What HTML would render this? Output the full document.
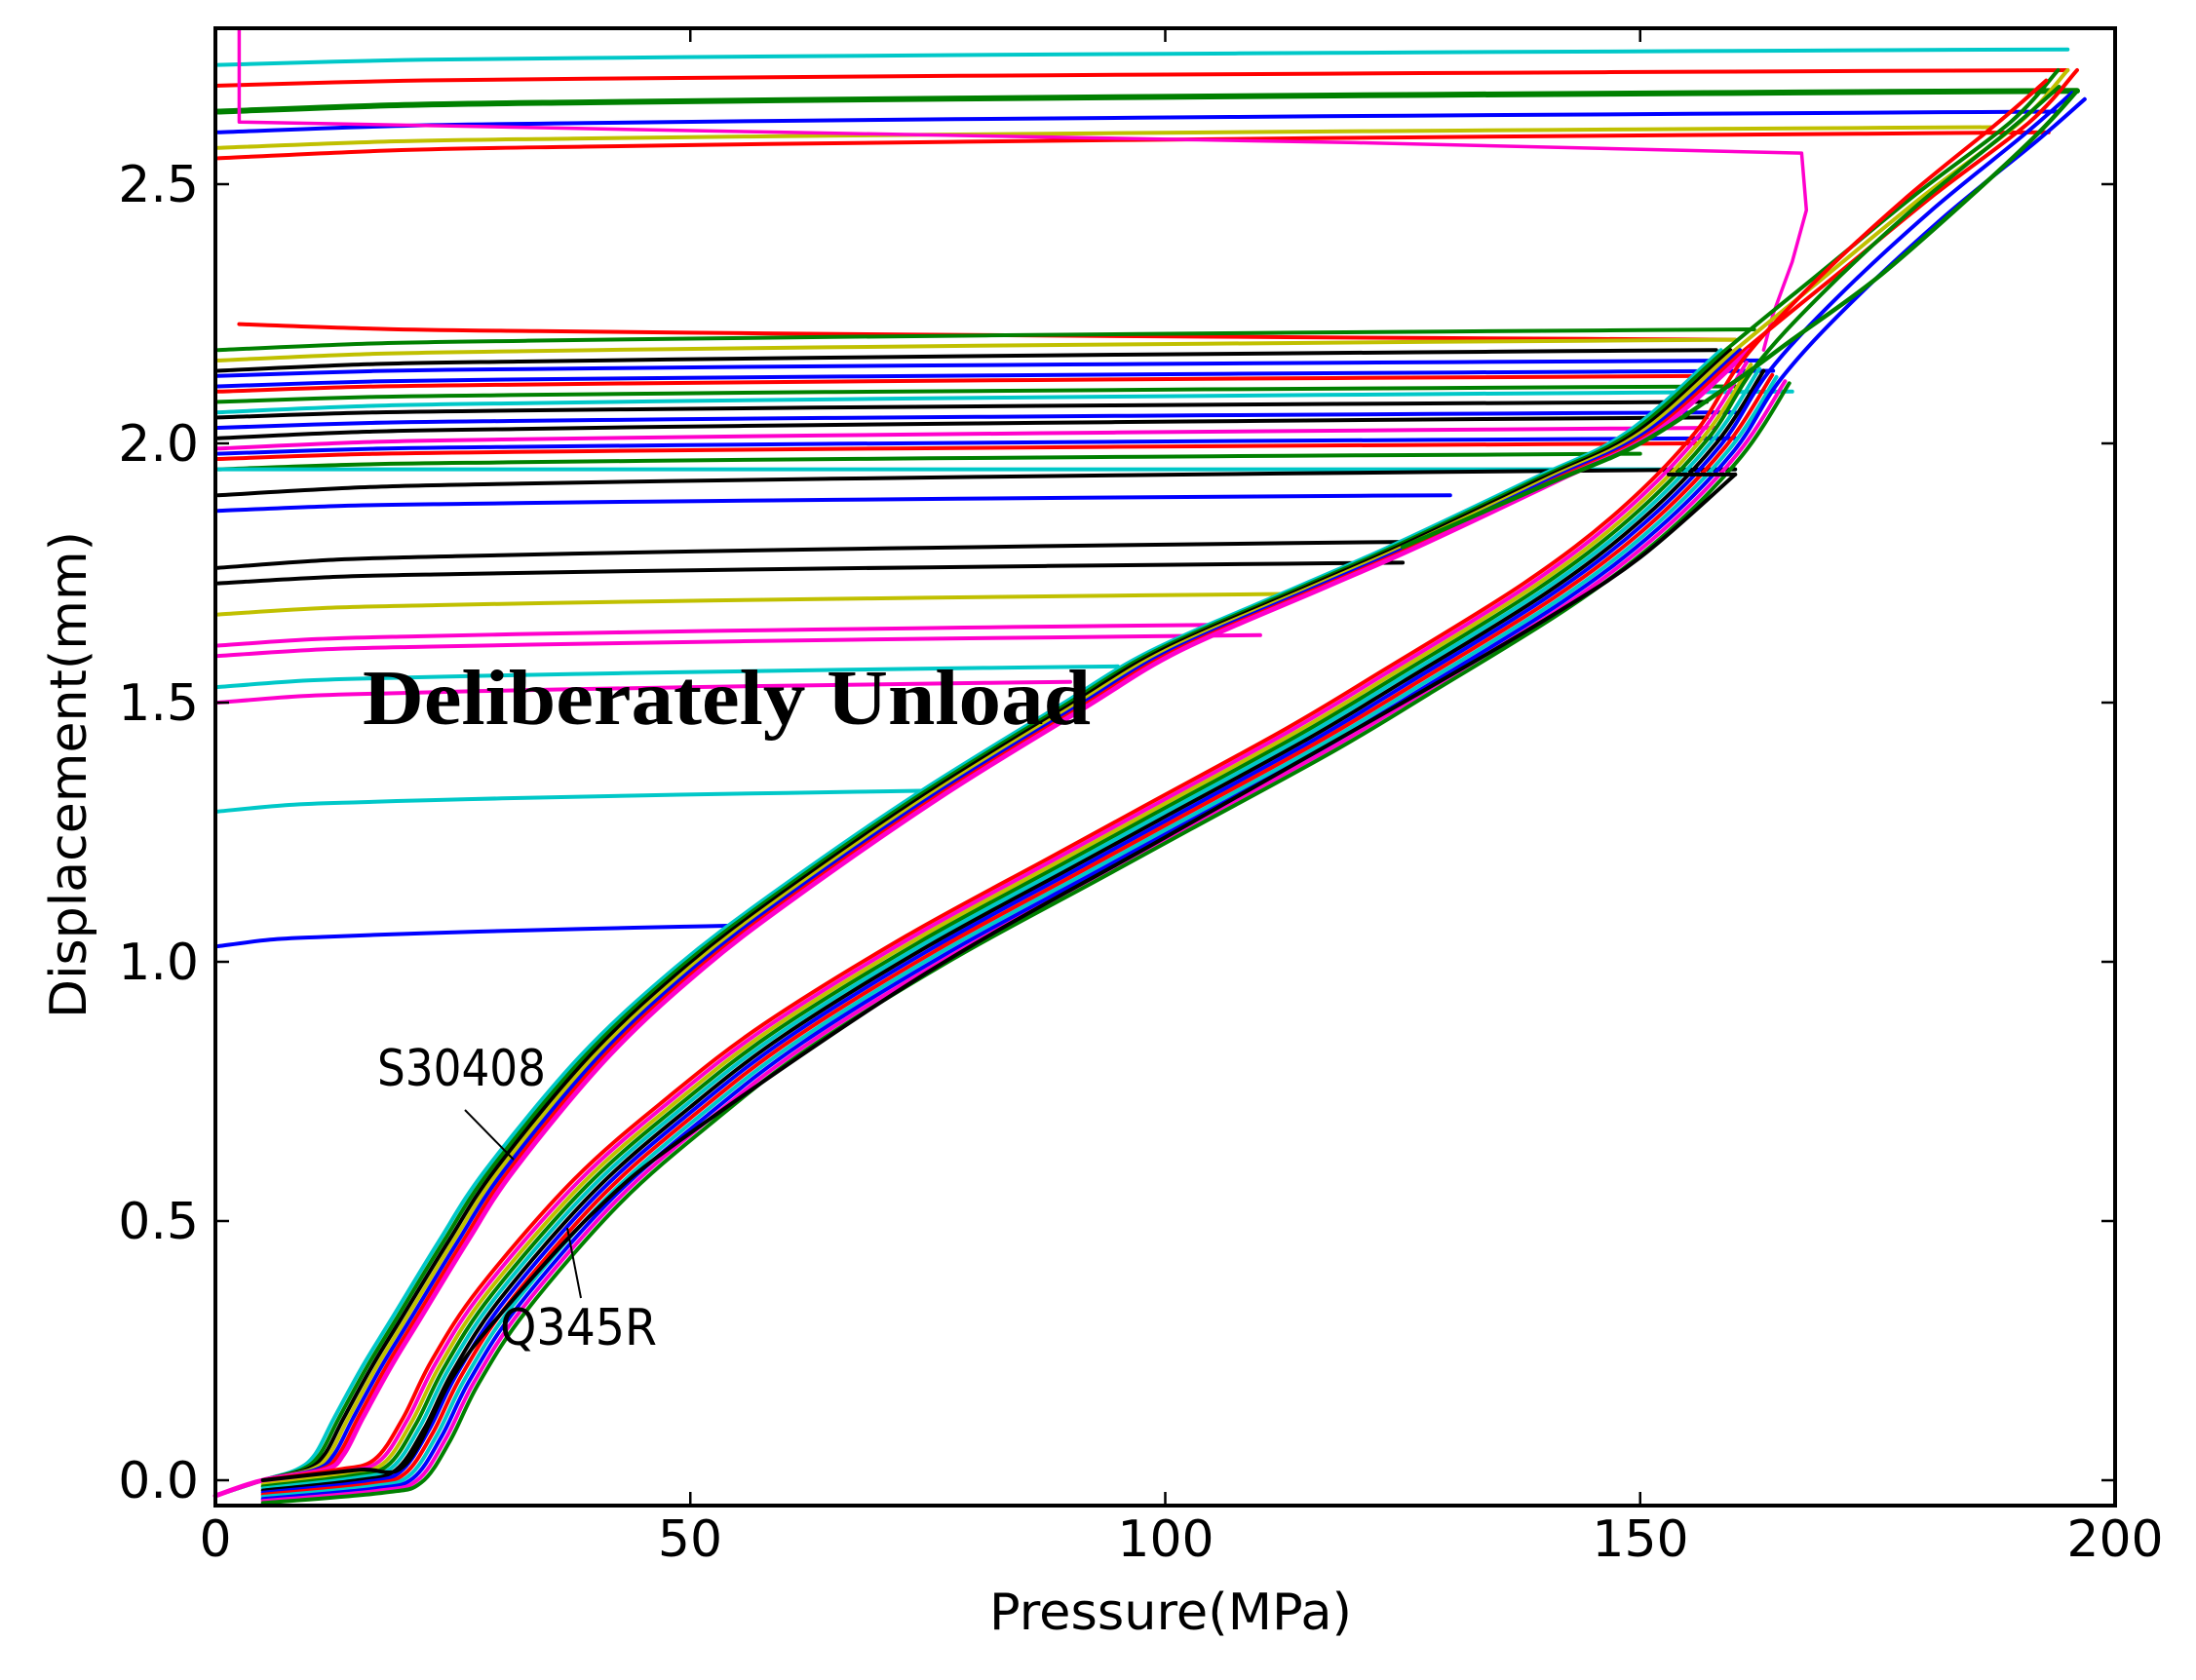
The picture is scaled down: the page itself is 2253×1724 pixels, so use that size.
<!DOCTYPE html>
<html><head><meta charset="utf-8"><style>
html,body{margin:0;padding:0;background:#fff;width:2253px;height:1724px;overflow:hidden}
svg{display:block}
</style></head><body>
<svg id="s" width="2253" height="1724" viewBox="0 0 2253 1724" xmlns="http://www.w3.org/2000/svg">
<rect width="2253" height="1724" fill="#fff"/>
<g id="data" fill="none" stroke-linejoin="round" stroke-linecap="round"></g>
<rect x="221" y="29" width="1949" height="1516" fill="none" stroke="#000" stroke-width="4"/>
<g id="ticks" stroke="#000" stroke-width="2.5"></g>
<g font-family="DejaVu Sans, Liberation Sans, sans-serif" font-size="52" fill="#000">
<text x="204" y="207" text-anchor="end">2.5</text>
<text x="204" y="473" text-anchor="end">2.0</text>
<text x="204" y="739" text-anchor="end">1.5</text>
<text x="204" y="1005" text-anchor="end">1.0</text>
<text x="204" y="1271" text-anchor="end">0.5</text>
<text x="204" y="1537" text-anchor="end">0.0</text>
<text x="221" y="1597" text-anchor="middle">0</text>
<text x="708" y="1597" text-anchor="middle">50</text>
<text x="1196" y="1597" text-anchor="middle">100</text>
<text x="1683" y="1597" text-anchor="middle">150</text>
<text x="2170" y="1597" text-anchor="middle">200</text>
<text x="1201" y="1672" text-anchor="middle" textLength="372" lengthAdjust="spacingAndGlyphs">Pressure(MPa)</text>
<text transform="translate(88,795) rotate(-90)" text-anchor="middle" textLength="500" lengthAdjust="spacingAndGlyphs">Displacement(mm)</text>
<text x="387" y="1114" textLength="173" lengthAdjust="spacingAndGlyphs">S30408</text>
<text x="513" y="1380" textLength="161" lengthAdjust="spacingAndGlyphs">Q345R</text>
</g>
<line x1="477" y1="1139" x2="527" y2="1190" stroke="#000" stroke-width="2"/>
<line x1="596" y1="1332" x2="582" y2="1260" stroke="#000" stroke-width="2"/>
<text x="372" y="743" font-family="Liberation Serif, serif" font-weight="bold" font-size="80" textLength="747" lengthAdjust="spacingAndGlyphs" fill="#000">Deliberately Unload</text>
</svg>
<script>
var NS="http://www.w3.org/2000/svg";
function X(p){return 221+9.745*p}
function Y(d){return 1519-532*d}
var g=document.getElementById('data');
function path(pts,col,w,smooth){var e=document.createElementNS(NS,'path');
var P=pts.map(function(a){return [X(a[0]),Y(a[1])]});var s='M'+P[0][0].toFixed(1)+','+P[0][1].toFixed(1);
if(smooth){for(var i=0;i<P.length-1;i++){var p0=P[i-1]||P[i],p1=P[i],p2=P[i+1],p3=P[i+2]||p2;
s+='C'+(p1[0]+(p2[0]-p0[0])/6).toFixed(1)+','+(p1[1]+(p2[1]-p0[1])/6).toFixed(1)+' '+(p2[0]-(p3[0]-p1[0])/6).toFixed(1)+','+(p2[1]-(p3[1]-p1[1])/6).toFixed(1)+' '+p2[0].toFixed(1)+','+p2[1].toFixed(1);}}
else{for(var i=1;i<P.length;i++)s+='L'+P[i][0].toFixed(1)+','+P[i][1].toFixed(1);}
e.setAttribute('d',s);e.setAttribute('stroke',col);e.setAttribute('stroke-width',w||4);g.appendChild(e);}
var C={c:'#00c8c8',r:'#ff0000',g:'#008000',b:'#0000ff',y:'#c0c000',m:'#ff00cc',k:'#000000'};
var U=[[2.73,2.76,195,'c'],[2.69,2.72,195,'r'],[2.64,2.68,196,'g',0,6],[2.60,2.64,194,'b'],[2.57,2.61,187,'y'],[2.55,2.60,193,'r'],
[2.23,2.20,160,'r',2.5],[2.18,2.22,162,'g'],[2.16,2.20,160,'y'],[2.14,2.18,158,'k'],[2.13,2.16,163,'b'],[2.11,2.14,164,'b'],
[2.10,2.13,157,'r'],[2.08,2.11,160,'g'],[2.06,2.10,166,'c'],[2.05,2.08,157,'k'],[2.03,2.06,160,'b'],[2.01,2.05,157,'k'],
[1.99,2.03,158,'m'],[1.97,2.00,156,'r'],[1.98,2.01,160,'b'],[1.95,1.98,150,'g'],[1.95,1.95,160,'c'],[1.90,1.95,160,'k'],
[1.87,1.90,130,'b'],[1.76,1.81,125,'k'],[1.73,1.77,125,'k'],[1.67,1.71,115,'y'],[1.61,1.65,105,'m'],[1.59,1.63,110,'m'],
[1.53,1.57,95,'c'],[1.50,1.54,90,'m'],[1.29,1.33,75,'c'],[1.03,1.07,55,'b']];
U.forEach(function(u){var ps=u[4]||0.3;var pts=[];for(var i=0;i<=10;i++){var p=ps+(u[2]-ps)*i/10;var t=i/10;pts.push([p,u[0]+(u[1]-u[0])*Math.sqrt(t)]);}path(pts,C[u[3]],u[5]||4,true);});
path([[2.5,2.8],[2.5,2.62],[60,2.6],[120,2.58],[167,2.56],[167.5,2.45],[166,2.35],[164,2.25],[163,2.18]],C.m,3.5,false);
var S=[[0,-0.03],[5,0],[10,0.02],[12,0.05],[14,0.12],[17,0.22],[20,0.31],[25,0.46],[30,0.6],[40,0.82],[50,0.99],[60,1.13],[75,1.32],[90,1.49],[100,1.6],[115,1.72],[125,1.8],[140,1.93],[150,2.02],[160,2.18],[170,2.33],[180,2.48],[190,2.62],[195,2.72]];
var Q=[[5,0],[15,0.02],[19,0.04],[22,0.12],[25,0.23],[30,0.37],[40,0.58],[50,0.74],[60,0.88],[75,1.05],[90,1.2],[100,1.3],[115,1.45],[125,1.56],[140,1.73],[150,1.87],[158,2.02],[163,2.16],[170,2.3],[180,2.47],[190,2.62],[195,2.7]];
function off(arr,dp,dd,maxp){return arr.filter(function(a){return a[0]<=maxp}).map(function(a){return [a[0]<=6?a[0]:a[0]+dp,a[1]+dd]})}
var sc=['c','g','k','y','b','r','m'];
sc.forEach(function(c,i){path(off(S,(i-3)*0.5,0,i%2?196:165),C[c],i==6?5:4,true)});
var qc=['r','m','y','g','c','k','b','r','c','b','m','g'];
qc.forEach(function(c,i){path(off(Q,(i-5)*0.45,-0.004*i,i%3==0?196:166),C[c],4,true)});
path([[5,0],[15,0.02],[20,0.03],[25,0.2],[30,0.32],[40,0.52],[50,0.67],[75,0.98],[100,1.24],[125,1.5],[140,1.66],[150,1.78],[160,1.94]],C.k,4,true);
path([[160,1.94],[153,1.94]],C.k,4,false);
path([[125,1.8],[140,1.92],[150,2.0],[160,2.12],[166,2.2],[175,2.32],[185,2.48],[192,2.6],[196,2.68]],C.g,4.5,true);
var t=document.getElementById('ticks');
function ln(a,b,c,d){var e=document.createElementNS(NS,'line');e.setAttribute('x1',a);e.setAttribute('y1',b);e.setAttribute('x2',c);e.setAttribute('y2',d);t.appendChild(e);}
[0,50,100,150,200].forEach(function(p){var x=X(p);ln(x,1545,x,1531);ln(x,29,x,43);});
[0,0.5,1,1.5,2,2.5].forEach(function(d){var y=Y(d);ln(221,y,235,y);ln(2170,y,2156,y);});
</script>
</body></html>
